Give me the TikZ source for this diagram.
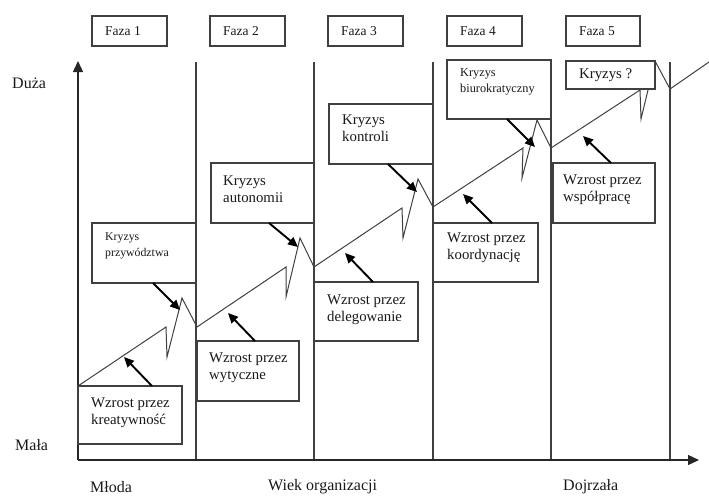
\documentclass[tikz,border=0pt]{standalone}
\usepackage{fontspec}
\setmainfont{Liberation Serif}
\usetikzlibrary{arrows.meta}
\begin{document}
\begin{tikzpicture}[x=1pt,y=-1pt,
  frame/.style={draw=black!75, line width=1.2pt, fill=white, inner sep=0pt, outer sep=0pt, anchor=north west},
  txt/.style={inner sep=0pt, anchor=north west, align=left, text=black!90, font=\fontsize{14.8}{16.5}\selectfont},
  smalltxt/.style={txt, font=\fontsize{11.8}{16}\selectfont},
  midtxt/.style={txt, font=\fontsize{12.3}{16.5}\selectfont},
  phasetxt/.style={inner sep=0pt, anchor=west, text=black!90, font=\fontsize{13.5}{15}\selectfont},
  axislabel/.style={inner sep=0pt, text=black!90, font=\fontsize{16}{18}\selectfont},
  divider/.style={draw=black!75, line width=1.1pt},
  axisline/.style={draw=black!85, line width=1.3pt, -{Triangle[length=11pt,width=10pt]}},
  conn/.style={draw=black, line width=1.9pt, -{Triangle[length=10pt,width=9pt]}},
  growth/.style={draw=black!75, line width=1pt, line join=miter}
]
\useasboundingbox (0,0) rectangle (709,496);

% phase dividers
\foreach \xx in {196,314,433,551,670} \draw[divider] (\xx,62) -- (\xx,460);

% axes
\coordinate (origin) at (78,460);
\coordinate (ytip) at (78,61);
\coordinate (xtip) at (699,460);
\draw[axisline] (origin) -- (ytip);
\draw[axisline] (origin) -- (xtip);

% growth line with crises
\draw[growth] (78,386) -- (166,327) -- (167,357) -- (182,298) -- (197,327)
  -- (286,267) -- (286,297) -- (300,238) -- (314,267)
  -- (402,208) -- (403,238) -- (418,179) -- (433,207)
  -- (523,148) -- (522,178) -- (537,120) -- (551,148)
  -- (640,90) -- (641,119) -- (655,61) -- (670,89) -- (709,62);

% phase headers
\node[frame, minimum width=75pt, minimum height=30pt] (f1) at (92,16) {};
\node[frame, minimum width=75pt, minimum height=30pt] (f2) at (210,16) {};
\node[frame, minimum width=75pt, minimum height=30pt] (f3) at (328,16) {};
\node[frame, minimum width=75pt, minimum height=30pt] (f4) at (447,16) {};
\node[frame, minimum width=74pt, minimum height=30pt] (f5) at (566,16) {};
\node[phasetxt] (f1t) at ([xshift=13pt]f1.west) {Faza 1};
\node[phasetxt] (f2t) at ([xshift=13pt]f2.west) {Faza 2};
\node[phasetxt] (f3t) at ([xshift=13pt]f3.west) {Faza 3};
\node[phasetxt] (f4t) at ([xshift=13pt]f4.west) {Faza 4};
\node[phasetxt] (f5t) at ([xshift=13pt]f5.west) {Faza 5};

% growth and crisis boxes
\node[frame, minimum width=104pt, minimum height=58pt] (kre) at (78,386) {};
\node[frame, minimum width=104pt, minimum height=60pt] (prz) at (92,223) {};
\node[frame, minimum width=102pt, minimum height=60pt] (wyt) at (197,341) {};
\node[frame, minimum width=103pt, minimum height=60pt] (aut) at (211,163) {};
\node[frame, minimum width=104pt, minimum height=59pt] (del) at (314,282) {};
\node[frame, minimum width=104pt, minimum height=60pt] (kon) at (329,104) {};
\node[frame, minimum width=105pt, minimum height=59pt] (koo) at (433,223) {};
\node[frame, minimum width=104pt, minimum height=59pt] (biu) at (447,60) {};
\node[frame, minimum width=89pt, minimum height=28pt] (kry) at (566,61) {};
\node[frame, minimum width=102pt, minimum height=60pt] (wsp) at (553,163) {};

\node[txt] (kre-t) at ([shift={(13,12)}]kre.north west) {Wzrost przez\\kreatywność};
\node[smalltxt] (prz-t) at ([shift={(13,10)}]prz.north west) {Kryzys\\przywództwa};
\node[txt] (wyt-t) at ([shift={(12,12)}]wyt.north west) {Wzrost przez\\wytyczne};
\node[txt] (aut-t) at ([shift={(12,13)}]aut.north west) {Kryzys\\autonomii};
\node[txt] (del-t) at ([shift={(13,13)}]del.north west) {Wzrost przez\\delegowanie};
\node[txt] (kon-t) at ([shift={(13,11)}]kon.north west) {Kryzys\\kontroli};
\node[txt] (koo-t) at ([shift={(14,10)}]koo.north west) {Wzrost przez\\koordynację};
\node[midtxt] (biu-t) at ([shift={(13,8)}]biu.north west) {Kryzys\\biurokratyczny};
\node[txt, anchor=west] (kry-t) at ([xshift=13pt]kry.west) {Kryzys ?};
\node[txt] (wsp-t) at ([shift={(10,12)}]wsp.north west) {Wzrost przez\\współpracę};

% arrows from boxes to the growth line
\coordinate (h-kre) at (124,357);
\coordinate (h-prz) at (180,310);
\coordinate (h-wyt) at (228,313);
\coordinate (h-aut) at (298,247);
\coordinate (h-del) at (345,253);
\coordinate (h-kon) at (417,192);
\coordinate (h-koo) at (463,194);
\coordinate (h-biu) at (535,147);
\coordinate (h-wsp) at (583,136);
\draw[conn] ([xshift=74pt]kre.north west) -- (h-kre);
\draw[conn] ([xshift=61pt]prz.south west) -- (h-prz);
\draw[conn] ([xshift=58pt]wyt.north west) -- (h-wyt);
\draw[conn] ([xshift=58pt]aut.south west) -- (h-aut);
\draw[conn] ([xshift=59pt]del.north west) -- (h-del);
\draw[conn] ([xshift=59pt]kon.south west) -- (h-kon);
\draw[conn] ([xshift=59pt]koo.north west) -- (h-koo);
\draw[conn] ([xshift=60pt]biu.south west) -- (h-biu);
\draw[conn] ([xshift=58pt]wsp.north west) -- (h-wsp);

% axis labels
\node[axislabel, anchor=west] (duza) at (12,83) {Duża};
\node[axislabel, anchor=west] (mala) at (15,445) {Mała};
\node[axislabel, anchor=west] (mloda) at (90,487) {Młoda};
\node[axislabel, anchor=west] (wiek) at (268,487) {Wiek organizacji};
\node[axislabel, anchor=west] (dojr) at (563,487) {Dojrzała};
\end{tikzpicture}
\end{document}
